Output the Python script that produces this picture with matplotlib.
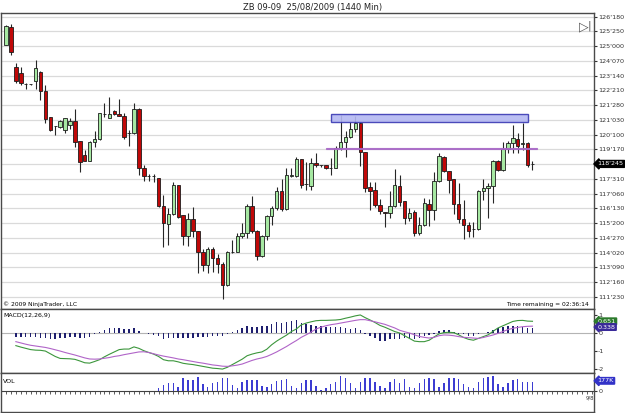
import numpy as np
import matplotlib.pyplot as plt
from matplotlib.patches import Rectangle
from matplotlib import transforms

plt.rcParams['axes.unicode_minus'] = False

TITLE = "ZB 09-09  25/08/2009 (1440 Min)"

# daily OHLC, prices in points (32nds converted)
opens = [125.08, 126.03, 123.88, 123.56, 123.01, 123.00, 123.17, 123.62, 122.61, 121.23,
         120.77, 120.70, 120.58, 120.83, 121.05, 119.99, 119.25, 118.93, 119.94, 120.08,
         121.42, 121.20, 121.57, 121.39, 121.30, 120.40, 120.39, 121.69, 118.53, 118.15,
         118.15, 118.00, 116.55, 115.58, 116.10, 117.63, 116.06, 114.96, 115.83, 115.23,
         114.11, 113.41, 114.24, 113.77, 113.46, 112.35, 114.12, 114.12, 114.95, 115.09,
         116.55, 115.23, 113.89, 114.96, 116.02, 116.41, 117.35, 116.36, 118.14, 118.15,
         119.01, 117.68, 117.61, 118.80, 118.72, 118.71, 118.56, 118.56, 119.62, 119.94,
         120.21, 120.60, 120.95, 119.41, 117.53, 117.38, 116.57, 116.23, 116.15, 116.54,
         117.61, 116.80, 115.88, 116.20, 115.09, 115.53, 116.63, 116.32, 117.86, 119.15,
         118.39, 117.97, 116.63, 115.85, 115.53, 115.30, 115.31, 117.33, 117.47, 117.60,
         118.92, 118.44, 119.54, 119.86, 120.07, 119.80, 119.86, 118.74]
highs = [126.12, 126.18, 124.09, 123.88, 123.03, 123.01, 124.27, 123.67, 122.94, 121.27,
         120.78, 121.09, 121.18, 121.18, 121.67, 120.00, 119.50, 119.99, 120.52, 121.48,
         121.98, 122.29, 121.62, 122.20, 121.48, 120.56, 121.98, 121.74, 118.71, 118.21,
         118.21, 118.03, 117.12, 116.45, 117.82, 117.63, 116.06, 116.15, 116.47, 115.23,
         114.26, 114.38, 114.38, 113.98, 113.59, 114.15, 114.73, 115.09, 115.62, 116.63,
         117.08, 115.26, 115.00, 116.06, 116.54, 117.53, 117.95, 118.53, 118.53, 119.11,
         119.04, 118.85, 119.06, 119.33, 118.72, 118.71, 119.09, 119.71, 121.36, 120.51,
         121.00, 121.30, 121.00, 119.41, 117.82, 117.82, 116.89, 116.23, 117.35, 118.48,
         118.18, 116.80, 116.41, 116.32, 115.97, 116.98, 116.89, 118.35, 119.33, 119.18,
         118.39, 117.97, 117.74, 116.85, 115.70, 115.70, 117.38, 117.97, 117.74, 118.97,
         118.97, 119.91, 119.98, 120.83, 120.39, 120.95, 119.94, 118.92]
lows = [125.04, 124.53, 123.05, 122.96, 122.73, 122.97, 122.73, 122.15, 120.92, 120.52,
        120.31, 120.65, 120.40, 120.61, 119.64, 118.32, 118.90, 118.93, 119.64, 120.05,
        121.23, 121.18, 121.36, 121.32, 120.07, 119.73, 120.33, 118.18, 117.88, 117.88,
        117.82, 116.50, 114.35, 114.47, 116.06, 115.88, 114.47, 114.43, 114.91, 112.97,
        113.11, 112.97, 113.06, 112.97, 111.61, 112.31, 114.03, 114.08, 114.82, 114.82,
        115.09, 113.68, 113.85, 114.73, 115.53, 116.32, 116.27, 116.32, 118.06, 118.09,
        117.47, 117.38, 117.38, 118.62, 118.62, 118.50, 118.18, 118.53, 119.50, 119.15,
        120.12, 120.47, 118.65, 117.29, 116.32, 116.50, 116.10, 115.41, 115.88, 116.50,
        116.55, 115.58, 115.76, 114.95, 115.00, 115.48, 115.48, 115.79, 117.82, 118.35,
        117.24, 116.10, 115.62, 114.79, 114.91, 114.88, 115.26, 116.85, 115.88, 116.71,
        118.41, 118.41, 119.33, 119.33, 119.33, 119.50, 118.62, 118.44]
closes = [126.09, 124.68, 123.17, 123.03, 122.99, 122.99, 123.83, 122.64, 121.13, 120.58,
          120.76, 121.05, 121.18, 121.02, 119.91, 118.88, 118.93, 119.94, 120.08, 121.46,
          121.40, 121.41, 121.39, 121.32, 120.21, 120.38, 121.66, 118.53, 118.14, 118.13,
          118.13, 116.55, 115.62, 116.10, 117.63, 115.97, 114.96, 115.83, 115.23, 114.11,
          113.41, 114.24, 113.77, 113.45, 112.35, 114.11, 114.11, 114.95, 115.12, 116.54,
          115.21, 113.89, 114.96, 116.02, 116.41, 117.35, 116.36, 118.18, 118.15, 119.01,
          117.65, 117.69, 118.80, 118.71, 118.70, 118.53, 118.57, 119.62, 119.94, 120.21,
          120.60, 120.92, 119.41, 117.47, 117.35, 116.59, 116.27, 116.15, 116.54, 117.63,
          116.76, 115.88, 116.18, 115.09, 115.53, 116.68, 116.32, 117.86, 119.18, 118.41,
          117.91, 116.63, 115.83, 115.53, 115.23, 115.31, 117.33, 117.47, 117.60, 118.92,
          118.44, 119.55, 119.86, 120.12, 119.73, 119.89, 118.71, 118.77]

nan = np.nan
macd = [nan, nan, -0.70, -0.78, -0.85, -0.92, -0.95, -0.96, -1.00, -1.15,
        -1.30, -1.41, -1.42, -1.43, -1.46, -1.55, -1.65, -1.67, -1.58, -1.48,
        -1.32, -1.18, -1.05, -0.92, -0.89, -0.89, -0.77, -0.85, -0.98, -1.08,
        -1.17, -1.30, -1.48, -1.54, -1.54, -1.60, -1.68, -1.72, -1.75, -1.80,
        -1.85, -1.90, -1.95, -1.97, -2.00, -1.90, -1.75, -1.60, -1.45, -1.26,
        -1.17, -1.10, -1.05, -0.90, -0.65, -0.45, -0.28, -0.12, 0.08, 0.22,
        0.45, 0.55, 0.62, 0.68, 0.70, 0.70, 0.71, 0.72, 0.75, 0.82,
        0.88, 0.95, 1.00, 0.85, 0.72, 0.58, 0.42, 0.32, 0.20, 0.08,
        0.00, -0.15, -0.30, -0.45, -0.48, -0.48, -0.40, -0.22, -0.05, 0.02,
        0.04, 0.02, -0.10, -0.25, -0.35, -0.40, -0.30, -0.20, -0.10, 0.10,
        0.28, 0.40, 0.52, 0.64, 0.69, 0.70, 0.66, 0.65]
macd_avg = [nan, nan, -0.48, -0.55, -0.62, -0.68, -0.72, -0.76, -0.80, -0.86,
            -0.93, -1.00, -1.08, -1.15, -1.22, -1.30, -1.38, -1.44, -1.45, -1.44,
            -1.40, -1.36, -1.30, -1.26, -1.20, -1.15, -1.10, -1.05, -1.04, -1.08,
            -1.15, -1.22, -1.28, -1.33, -1.38, -1.44, -1.48, -1.53, -1.58, -1.63,
            -1.67, -1.72, -1.77, -1.80, -1.84, -1.85, -1.82, -1.78, -1.72, -1.62,
            -1.52, -1.44, -1.38, -1.30, -1.18, -1.05, -0.90, -0.75, -0.58, -0.42,
            -0.24, -0.10, 0.05, 0.22, 0.32, 0.40, 0.46, 0.50, 0.55, 0.60,
            0.65, 0.70, 0.74, 0.74, 0.68, 0.62, 0.55, 0.48, 0.38, 0.28,
            0.15, 0.07, 0.00, -0.10, -0.19, -0.24, -0.28, -0.24, -0.15, -0.11,
            -0.12, -0.15, -0.20, -0.24, -0.26, -0.28, -0.30, -0.25, -0.18, -0.11,
            -0.02, 0.08, 0.19, 0.26, 0.31, 0.35, 0.37, 0.38]
macd_diff = [nan, nan, -0.24, -0.24, -0.24, -0.22, -0.22, -0.26, -0.26, -0.33,
             -0.33, -0.28, -0.26, -0.24, -0.24, -0.26, -0.26, -0.20, -0.07, 0.07,
             0.19, 0.28, 0.30, 0.30, 0.24, 0.24, 0.30, 0.13, -0.02, -0.06,
             -0.11, -0.19, -0.33, -0.28, -0.26, -0.26, -0.26, -0.26, -0.26, -0.24,
             -0.24, -0.24, -0.19, -0.19, -0.15, -0.04, 0.07, 0.19, 0.26, 0.41,
             0.35, 0.33, 0.37, 0.41, 0.48, 0.59, 0.56, 0.63, 0.65, 0.70,
             0.56, 0.50, 0.46, 0.41, 0.37, 0.31, 0.31, 0.31, 0.31, 0.26,
             0.22, 0.26, 0.19, -0.06, -0.15, -0.28, -0.43, -0.43, -0.33, -0.33,
             -0.33, -0.30, -0.30, -0.33, -0.26, -0.19, -0.11, -0.04, 0.13, 0.19,
             0.15, 0.04, -0.04, -0.07, -0.15, -0.15, -0.04, -0.02, 0.07, 0.19,
             0.26, 0.31, 0.37, 0.41, 0.37, 0.35, 0.26, 0.25]

# volume in thousands of contracts
volume = [1, 1, 1, 1, 1, 1, 1, 1, 1, 1,
          1, 1, 1, 1, 1, 1, 1, 1, 1, 1,
          2, 2, 2, 2, 2, 2, 3, 3, 3, 4,
          6, 54, 122, 156, 156, 88, 258, 224, 224, 279,
          143, 88, 156, 190, 258, 258, 122, 54, 177, 224,
          224, 224, 102, 75, 143, 204, 224, 245, 102, 54,
          156, 224, 224, 102, 20, 54, 136, 190, 306, 272,
          156, 54, 190, 258, 258, 190, 102, 54, 177, 245,
          156, 245, 88, 54, 156, 245, 258, 245, 88, 170,
          272, 258, 245, 136, 88, 54, 190, 258, 292, 313,
          136, 88, 170, 224, 245, 177, 177, 177]

price_ticks = ["126'180", "125'250", "125'000", "124'070", "123'140", "122'210",
               "121'280", "121'030", "120'100", "119'170", "118'240", "117'310",
               "117'060", "116'130", "115'200", "114'270", "114'020", "113'090",
               "112'160", "111'230"]
last_price = "118'245"

zone_start, zone_end = 66, 106
zone_low, zone_high = 120.96, 121.39
band_start, band_end = 65, 108
band_low, band_high = 119.53, 119.63

macd_last, avg_last, vol_last = "0.651", "0.338", "177K"


def to_price(s):
    whole, frac = s.split("'")
    return int(whole) + int(frac) / 320.0


def draw():
    o = np.array(opens); h = np.array(highs); l = np.array(lows); c = np.array(closes)
    x = np.arange(len(c))
    up = c >= o
    bottom = np.minimum(o, c)
    height = np.maximum(np.abs(c - o), 0.015)

    fig = plt.figure(figsize=(6.25, 4.13), dpi=100)
    ax = fig.add_axes([0.0016, 0.2518, 0.9488, 0.7167])
    ax2 = fig.add_axes([0.0016, 0.0976, 0.9488, 0.1542], sharex=ax)
    ax3 = fig.add_axes([0.0016, 0.0031, 0.9488, 0.0944], sharex=ax)

    fig.text(0.5, 0.992, TITLE, ha='center', va='top', fontsize=6, color='#222222')

    # price panel
    ax.vlines(x, l, h, color='#262626', lw=0.8, zorder=2)
    ax.bar(x[up], height[up], 0.7, bottom=bottom[up], color='#a6e8a2', edgecolor='#1c1c1c', lw=0.6, zorder=3)
    ax.bar(x[~up], height[~up], 0.7, bottom=bottom[~up], color='#c00808', edgecolor='#1c1c1c', lw=0.6, zorder=3)

    ax.add_patch(Rectangle((zone_start, zone_low), zone_end - zone_start, zone_high - zone_low,
                           facecolor='#b4b8f2', edgecolor='#3a3ab4', lw=1.0, alpha=0.9, zorder=4))
    ax.add_patch(Rectangle((band_start, band_low), band_end - band_start, band_high - band_low,
                           facecolor='#f0e4f6', edgecolor='#a462c4', lw=0.8, alpha=0.9, zorder=4))

    tick_vals = [to_price(t) for t in price_ticks]
    ax.set_yticks(tick_vals)
    ax.set_yticklabels(price_ticks)
    ax.yaxis.tick_right()
    ax.tick_params(axis='y', labelsize=4.6, length=2, pad=1, colors='#333333')
    ax.tick_params(axis='x', bottom=False, labelbottom=False)
    ax.yaxis.grid(True, color='#dadada', lw=0.9)
    ax.set_axisbelow(True)
    ax.set_xlim(-1.02, 119.5)
    ax.set_ylim(111.08, 126.76)

    trans = transforms.blended_transform_factory(ax.transAxes, ax.transData)
    ax.text(1.006, to_price(last_price), last_price, transform=trans, va='center', ha='left',
            fontsize=4.6, color='white', zorder=10,
            bbox=dict(boxstyle='larrow,pad=0.15', fc='black', ec='black'))
    ax.text(0.982, 0.975, u'\u25b7', transform=ax.transAxes, fontsize=9, color='#555555', ha='center', va='top')
    ax.text(0.993, 0.975, '|', transform=ax.transAxes, fontsize=8, color='#555555', ha='center', va='top')
    ax.text(0.004, 0.008, u'\u00a9 2009 NinjaTrader, LLC', transform=ax.transAxes, fontsize=4.3, va='bottom')
    ax.text(0.992, 0.008, 'Time remaining = 02:36:14', transform=ax.transAxes, fontsize=4.3, va='bottom', ha='right')

    # MACD panel
    ax2.axhline(0, color='#b4b4b4', lw=0.8, zorder=1)
    ax2.bar(x, macd_diff, 0.3, color='#1e1e6e', zorder=2)
    ax2.plot(x, macd, color='#3c963c', lw=0.8, zorder=3)
    ax2.plot(x, macd_avg, color='#b064c8', lw=0.8, zorder=3)
    ax2.set_ylim(-2.2, 1.33)
    ax2.set_yticks([1, 0, -1, -2])
    ax2.yaxis.tick_right()
    ax2.tick_params(axis='y', labelsize=4.6, length=2, pad=1, colors='#333333')
    ax2.tick_params(axis='x', bottom=False, labelbottom=False)
    ax2.text(0.004, 0.93, 'MACD(12,26,9)', transform=ax2.transAxes, fontsize=4.5, va='top')
    t2 = transforms.blended_transform_factory(ax2.transAxes, ax2.transData)
    ax2.text(1.006, macd[-1], macd_last, transform=t2, va='center', fontsize=4.6, color='white',
             bbox=dict(boxstyle='larrow,pad=0.12', fc='#2c7a2c', ec='#2c7a2c'))
    ax2.text(1.006, macd_avg[-1] - 0.05, avg_last, transform=t2, va='center', fontsize=4.6, color='white',
             bbox=dict(boxstyle='larrow,pad=0.12', fc='#3a2a9a', ec='#3a2a9a'))

    # volume panel
    ax3.bar(x, volume, 0.3, color='#3c3cd2', zorder=2)
    ax3.axhline(0, color='#404040', lw=0.8, zorder=1)
    slots = np.arange(0, 120)
    ax3.vlines(slots, -55, 0, color='#404040', lw=0.6)
    ax3.set_ylim(-420, 371)
    ax3.set_yticks([0])
    ax3.yaxis.tick_right()
    ax3.tick_params(axis='y', labelsize=4.6, length=2, pad=1, colors='#333333')
    ax3.tick_params(axis='x', bottom=False, labelbottom=False)
    ax3.text(0.004, 0.84, 'VOL', transform=ax3.transAxes, fontsize=4.5, va='top')
    ax3.text(118.6, -90, '9/8', fontsize=3.8, ha='center', va='top', color='#333333')
    t3 = transforms.blended_transform_factory(ax3.transAxes, ax3.transData)
    ax3.text(1.006, volume[-1] + 30, vol_last, transform=t3, va='center', fontsize=4.6, color='white',
             bbox=dict(boxstyle='larrow,pad=0.12', fc='#3232c8', ec='#3232c8'))

    for a in (ax, ax2, ax3):
        for s in a.spines.values():
            s.set_color('#4a4a4a')
            s.set_linewidth(1.0)

    fig.savefig('out.png', dpi=100)


if __name__ == '__main__':
    draw()
